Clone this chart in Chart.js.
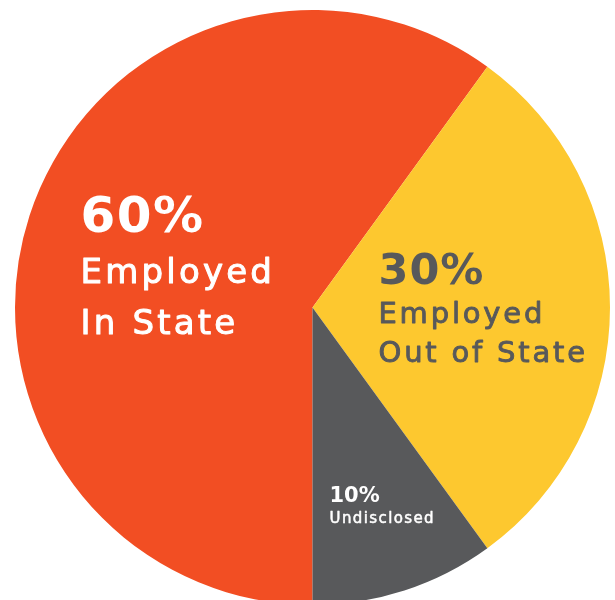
<html>
<head>
    <meta charset="utf-8">
    <script src="https://cdn.jsdelivr.net/npm/chart.js"></script>
    <style>
        body { margin: 0; overflow: hidden; background: #fff; }
    </style>
    <title>Employment</title>
</head>
<body>
    <canvas id="myChart" width="615" height="620"></canvas>
    <script>
        // dados do grafico
        var categorias = ['Employed In State', 'Employed Out of State', 'Undisclosed'];
        var valores = [60, 30, 10];
        var percentuais = ['60%', '30%', '10%'];
        var legendas = [['Employed', 'In State'], ['Employed', 'Out of State'], ['Undisclosed']];

        // aparencia (fora dos dados)
        var cores = ['#F24E23', '#FDC82F', '#58595B'];
        var coresTexto = ['#FFFFFF', '#58595B', '#FFFFFF'];
        // posicao dos textos em relacao ao centro da pizza
        var layout = [
            { dx: -232, dy: -76, big: 50, bls: 1.5, small: 34, gap: 51, ls: 3.2, w: 1.0 },
            { dx: 66, dy: -24, big: 43, bls: 1, small: 29, gap: 39, ls: 2.8, w: 0.9 },
            { dx: 17, dy: 194, big: 21, bls: 0, small: 15, gap: 21, ls: 1.4, w: 0.5 }
        ];

        var rotulos = {
            id: 'rotulos',
            afterDatasetsDraw: function (chart) {
                var ctx = chart.ctx;
                var arcos = chart.getDatasetMeta(0).data;
                ctx.save();
                ctx.textAlign = 'left';
                ctx.textBaseline = 'alphabetic';
                ctx.lineJoin = 'round';
                arcos.forEach(function (arco, i) {
                    var l = layout[i];
                    var x = arco.x + l.dx;
                    var y = arco.y + l.dy;
                    ctx.fillStyle = coresTexto[i];
                    ctx.strokeStyle = coresTexto[i];
                    ctx.letterSpacing = l.bls + 'px';
                    ctx.font = 'bold ' + l.big + 'px "DejaVu Sans"';
                    ctx.fillText(percentuais[i], x, y);
                    // texto um pouco mais grosso, tipo "medium"
                    ctx.letterSpacing = l.ls + 'px';
                    ctx.font = l.small + 'px "DejaVu Sans"';
                    ctx.lineWidth = l.w;
                    legendas[i].forEach(function (linha, j) {
                        ctx.fillText(linha, x, y + l.gap * (j + 1));
                        ctx.strokeText(linha, x, y + l.gap * (j + 1));
                    });
                });
                ctx.restore();
            }
        };

        var ctx = document.getElementById('myChart').getContext('2d');
        var myChart = new Chart(ctx, {
            type: 'pie',
            data: {
                labels: categorias,
                datasets: [{
                    data: valores,
                    backgroundColor: cores,
                    borderWidth: 0
                }]
            },
            options: {
                responsive: false,
                animation: false,
                rotation: 180,
                layout: { padding: { left: 15, right: 5, top: 10, bottom: 15 } },
                plugins: {
                    legend: { display: false },
                    tooltip: { enabled: false }
                }
            },
            plugins: [rotulos]
        });
    </script>
</body>
</html>
